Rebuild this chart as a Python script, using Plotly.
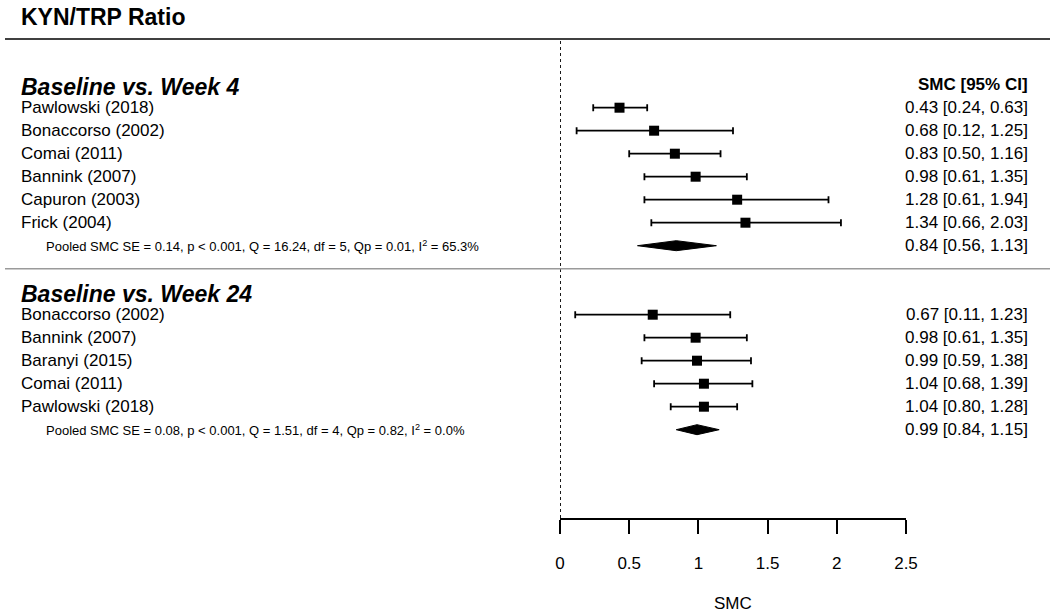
import plotly.graph_objects as go

# ---------------- data ----------------
title_text = "KYN/TRP Ratio"
group_names = ["Baseline vs. Week 4", "Baseline vs. Week 24"]

w4_studies = ["Pawlowski (2018)", "Bonaccorso (2002)", "Comai (2011)", "Bannink (2007)", "Capuron (2003)", "Frick (2004)"]
w4_est = [0.43, 0.68, 0.83, 0.98, 1.28, 1.34]
w4_lo = [0.24, 0.12, 0.50, 0.61, 0.61, 0.66]
w4_hi = [0.63, 1.25, 1.16, 1.35, 1.94, 2.03]
w4_pooled = [0.84, 0.56, 1.13]
w4_pooled_text = "Pooled SMC SE = 0.14, p < 0.001, Q = 16.24, df = 5, Qp = 0.01, I<sup>2</sup> = 65.3%"

w24_studies = ["Bonaccorso (2002)", "Bannink (2007)", "Baranyi (2015)", "Comai (2011)", "Pawlowski (2018)"]
w24_est = [0.67, 0.98, 0.99, 1.04, 1.04]
w24_lo = [0.11, 0.61, 0.59, 0.68, 0.80]
w24_hi = [1.23, 1.35, 1.38, 1.39, 1.28]
w24_pooled = [0.99, 0.84, 1.15]
w24_pooled_text = "Pooled SMC SE = 0.08, p < 0.001, Q = 1.51, df = 4, Qp = 0.82, I<sup>2</sup> = 0.0%"

tick_vals = [0, 0.5, 1, 1.5, 2, 2.5]
tick_text = ["0", "0.5", "1", "1.5", "2", "2.5"]
x_label = "SMC"
col_header = "SMC [95% CI]"

# ---------------- layout geometry ----------------
W, H = 1050, 615
ML, MR, MT, MB = 560, 144, 40, 97
PW = W - ML - MR
PH = H - MT - MB
FONT = "Liberation Sans, Arial, sans-serif"
FS = 17


def px_x(p):
    return (p - ML) / PW


def px_y(p):
    return (H - MB - p) / PH


# row positions
w4_header_row = 0
w4_rows = list(range(1, 1 + len(w4_studies)))
w4_pool_row = w4_rows[-1] + 1
sep_row = w4_pool_row + 1
w24_header_row = sep_row + 1
w24_rows = list(range(w24_header_row + 1, w24_header_row + 1 + len(w24_studies)))
w24_pool_row = w24_rows[-1] + 1
row_px = 23.0
y_top = -(84.7 - MT) / row_px
y_bot = (H - MB - 84.7) / row_px

fig = go.Figure()

all_est = w4_est + w24_est
all_lo = w4_lo + w24_lo
all_hi = w4_hi + w24_hi
all_rows = w4_rows + w24_rows

fig.add_trace(go.Scatter(
    x=all_est, y=all_rows, mode="markers",
    marker=dict(symbol="square", size=10, color="black"),
    error_x=dict(type="data", symmetric=False,
                 array=[h - e for h, e in zip(all_hi, all_est)],
                 arrayminus=[e - l for e, l in zip(all_est, all_lo)],
                 color="black", thickness=1.8, width=3.5),
    showlegend=False, hoverinfo="skip", cliponaxis=False,
))

dh = 5.0 / row_px
for pooled, row in [(w4_pooled, w4_pool_row), (w24_pooled, w24_pool_row)]:
    est, lo, hi = pooled
    fig.add_trace(go.Scatter(
        x=[lo, est, hi, est, lo], y=[row, row - dh, row, row + dh, row],
        mode="lines", fill="toself", fillcolor="black",
        line=dict(color="black", width=1), showlegend=False, hoverinfo="skip",
    ))

shapes = []
# dotted reference line at 0
shapes.append(dict(type="line", xref="x", yref="paper", x0=0, x1=0, y0=0, y1=1,
                   line=dict(color="black", width=1.8, dash="dot")))
# title underline
shapes.append(dict(type="line", xref="paper", yref="paper", x0=px_x(5), x1=px_x(1050),
                   y0=px_y(39), y1=px_y(39), line=dict(color="black", width=1.5)))
# group separator
shapes.append(dict(type="line", xref="paper", yref="y", x0=px_x(5), x1=px_x(1050),
                   y0=sep_row, y1=sep_row, line=dict(color="#9a9a9a", width=1.5)))

ann = []
ann.append(dict(text=f"<b>{title_text}</b>", xref="paper", yref="paper", x=px_x(19), y=px_y(17),
                xanchor="left", yanchor="middle", showarrow=False,
                font=dict(size=23, family=FONT, color="black")))
for gname, hrow in [(group_names[0], w4_header_row), (group_names[1], w24_header_row)]:
    ann.append(dict(text=f"<b><i>{gname}</i></b>", xref="paper", yref="y", x=px_x(19), y=hrow + 0.1,
                    xanchor="left", yanchor="middle", showarrow=False,
                    font=dict(size=23, family=FONT, color="black")))
ann.append(dict(text=f"<b>{col_header}</b>", xref="paper", yref="y", x=px_x(1030), y=w4_header_row,
                xanchor="right", yanchor="middle", showarrow=False,
                font=dict(size=FS, family=FONT, color="black")))

for names, est, lo, hi, rows in [(w4_studies, w4_est, w4_lo, w4_hi, w4_rows),
                                 (w24_studies, w24_est, w24_lo, w24_hi, w24_rows)]:
    for n, e, l, h, r in zip(names, est, lo, hi, rows):
        ann.append(dict(text=n, xref="paper", yref="y", x=px_x(19), y=r,
                        xanchor="left", yanchor="middle", showarrow=False,
                        font=dict(size=FS, family=FONT, color="black")))
        ann.append(dict(text=f"{e:.2f} [{l:.2f}, {h:.2f}]", xref="paper", yref="y", x=px_x(1030), y=r,
                        xanchor="right", yanchor="middle", showarrow=False,
                        font=dict(size=FS, family=FONT, color="black")))

for ptxt, pooled, row in [(w4_pooled_text, w4_pooled, w4_pool_row), (w24_pooled_text, w24_pooled, w24_pool_row)]:
    ann.append(dict(text=ptxt, xref="paper", yref="y", x=px_x(44), y=row,
                    xanchor="left", yanchor="middle", showarrow=False,
                    font=dict(size=13, family=FONT, color="black")))
    e, l, h = pooled
    ann.append(dict(text=f"{e:.2f} [{l:.2f}, {h:.2f}]", xref="paper", yref="y", x=px_x(1030), y=row,
                    xanchor="right", yanchor="middle", showarrow=False,
                    font=dict(size=FS, family=FONT, color="black")))

ann.append(dict(text=x_label, xref="paper", yref="paper", x=0.5, y=px_y(603),
                xanchor="center", yanchor="middle", showarrow=False,
                font=dict(size=FS, family=FONT, color="black")))

fig.update_layout(
    width=W, height=H,
    margin=dict(l=ML, r=MR, t=MT, b=MB, pad=0),
    paper_bgcolor="white", plot_bgcolor="white",
    font=dict(family=FONT, color="black"),
    shapes=shapes, annotations=ann,
    xaxis=dict(range=[0, 2.5], tickvals=tick_vals, ticktext=tick_text,
               showline=True, linecolor="black", linewidth=1.5,
               ticks="outside", ticklen=14, tickwidth=1.5, tickcolor="black",
               tickfont=dict(size=FS, family=FONT, color="black"),
               ticklabelstandoff=15,
               showgrid=False, zeroline=False, fixedrange=True),
    yaxis=dict(range=[y_bot, y_top], visible=False, showgrid=False, zeroline=False, fixedrange=True),
)

fig.write_html("out.html", config={"displayModeBar": False},
               post_script="document.body.style.margin='0px';document.body.style.overflow='hidden';")
